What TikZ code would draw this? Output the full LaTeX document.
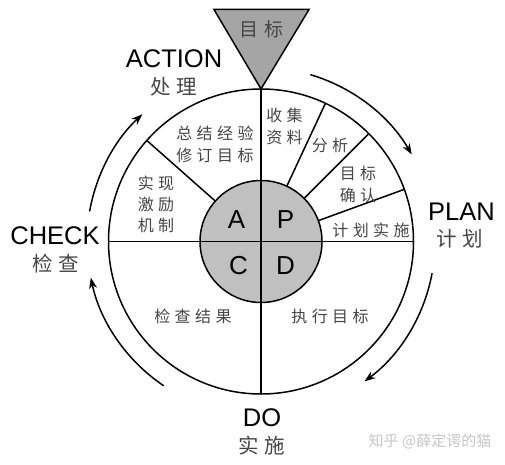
\documentclass[tikz,border=0pt]{standalone}
\usepackage{fontspec}
\setmainfont{Liberation Sans}
\newfontfamily\cjk{Noto Sans CJK SC}
\usetikzlibrary{arrows.meta,calc}
\definecolor{tri}{RGB}{165,165,165}
\definecolor{core}{RGB}{192,192,192}
\definecolor{cjkgray}{RGB}{70,70,70}
\newcommand{\gp}{\hspace{0.28em}}
\tikzset{
  ln/.style={line width=1.5pt, black},
  cyc/.style={line width=1.5pt, black, -{Stealth[length=11pt,width=8pt]}},
  latin/.style={font=\fontsize{25.5}{26}\selectfont, inner sep=0pt},
  letter/.style={font=\fontsize{26}{27}\selectfont, inner sep=0pt},
  big/.style={font=\cjk\fontsize{20.5}{22}\selectfont, text=cjkgray, inner sep=0pt},
  seg/.style={font=\cjk\fontsize{16}{22}\selectfont, text=cjkgray, inner sep=0pt, align=center},
}
\begin{document}
\begin{tikzpicture}[x=1pt,y=1pt]
\useasboundingbox (0,0) rectangle (505,464);
\fill[white] (0,0) rectangle (505,464);
\coordinate (O) at (261,222.5);
\def\R{152.5}
\def\r{61}
% outer circle and core
\draw[ln] (O) circle[radius=\R];
\filldraw[ln, fill=core] (O) circle[radius=\r];
% dividing lines
\draw[ln] ($(O)+(90:\R)$) -- ($(O)+(-90:\R)$);
\draw[ln] ($(O)+(180:\R)$) -- ($(O)+(0:\R)$);
\foreach \a in {138.5,65,45,20}
  \draw[ln] ($(O)+(\a:\r)$) -- ($(O)+(\a:\R)$);
% target triangle
\filldraw[ln, fill=tri, line join=miter] (214,454.5) -- (309,454.5) -- ($(O)+(90:\R)$) -- cycle;
\node[font=\cjk\fontsize{19}{20}\selectfont, text=cjkgray, inner sep=0pt] (goal) at (261.5,435) {目\gp 标};
% cycle arrows
\draw[cyc] ($(O)+(73.5:174)$) arc[start angle=73.5, end angle=30, radius=174];
\draw[cyc] ($(O)+(-10.5:174)$) arc[start angle=-10.5, end angle=-53.5, radius=174];
\draw[cyc] ($(O)+(-124:174)$) arc[start angle=-124, end angle=-168, radius=174];
\draw[cyc] ($(O)+(170:174)$) arc[start angle=170, end angle=133, radius=174];
% phase labels
\node[latin] (action) at (174,405) {ACTION};
\node[big] (actioncn) at (174,377) {处\gp 理};
\node[latin] (plan) at (461.5,252.5) {PLAN};
\node[big] (plancn) at (460,225) {计\gp 划};
\node[latin] (do) at (262,46) {DO};
\node[big] (docn) at (262,18) {实\gp 施};
\node[latin] (check) at (55,228) {CHECK};
\node[big] (checkcn) at (56,200) {检\gp 查};
% core letters
\node[letter] (A) at (236.5,244) {A};
\node[letter] (P) at (285.5,244) {P};
\node[letter] (C) at (238.5,198) {C};
\node[letter] (D) at (285.5,198) {D};
% segment texts
\node[seg] (s1) at (284.5,338) {收\gp 集\\资\gp 料};
\node[seg] (s2) at (330,319) {分\gp 析};
\node[seg] (s3) at (358,280) {目\gp 标\\确\gp 认};
\node[seg] (s4) at (371,234) {计\gp 划\gp 实\gp 施};
\node[seg] (s5) at (215,320) {总\gp 结\gp 经\gp 验\\修\gp 订\gp 目\gp 标};
\node[seg, font=\cjk\fontsize{16}{21}\selectfont] (s6) at (156,260) {实\gp 现\\激\gp 励\\机\gp 制};
\node[seg] (s7) at (193,148) {检\gp 查\gp 结\gp 果};
\node[seg] (s8) at (330,148) {执\gp 行\gp 目\gp 标};
% watermark
\node[font=\cjk\fontsize{15}{16}\selectfont, text=black!22, inner sep=0pt] (wm) at (430,23) {知乎 @薛定谔的猫};
\end{tikzpicture}
\end{document}
